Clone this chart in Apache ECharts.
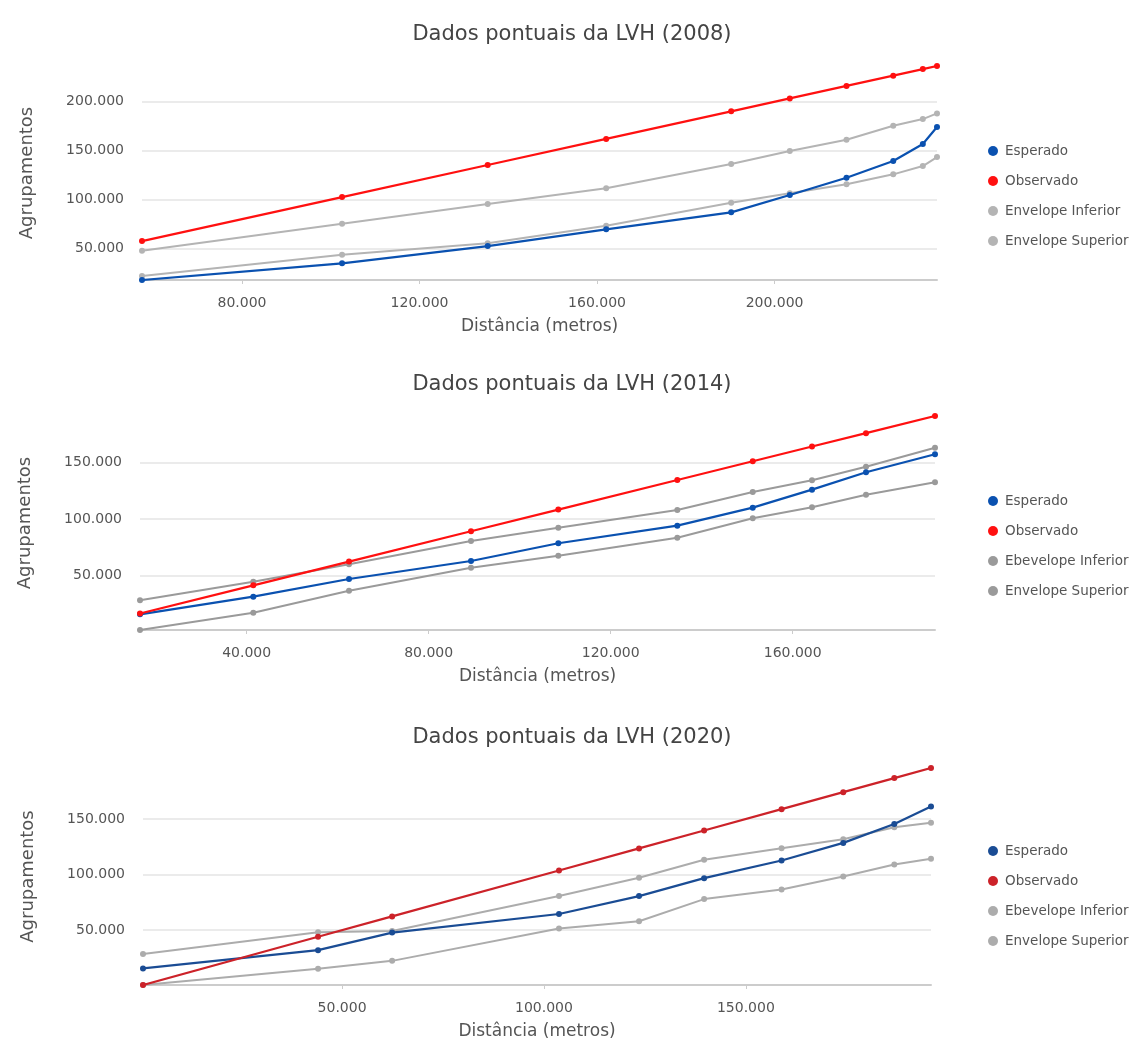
<!DOCTYPE html>
<html>
<head>
<meta charset="utf-8">
<script src="https://cdn.jsdelivr.net/npm/echarts@6/dist/echarts.min.js"></script>
<style>
  html, body { margin: 0; padding: 0; background: #fff; }
  #wrap { position: relative; width: 1144px; height: 1048px; }
  .c { position: absolute; left: 0; width: 1144px; }
</style>
</head>
<body>
<div id="wrap">
  <div id="c1" class="c" style="top:0;height:350px"></div>
  <div id="c2" class="c" style="top:350px;height:350px"></div>
  <div id="c3" class="c" style="top:700px;height:348px"></div>
</div>
<script>
// ---- 2008 ----
const dist2008      = [57460, 102540, 135360, 162050, 190220, 203430, 216210, 226740, 233410, 236600];
const esperado2008  = [17690, 34760, 52410, 69530, 86910, 104600, 122290, 139370, 156750, 174130];
const observado2008 = [57460, 102540, 135360, 162050, 190220, 203430, 216210, 226740, 233410, 236600];
const envInf2008    = [21780, 43560, 55210, 73210, 96730, 106340, 115540, 125770, 134250, 143460];
const envSup2008    = [47650, 75250, 95400, 111450, 136300, 149600, 161150, 175460, 182300, 188100];
const xTicks2008 = [80000, 120000, 160000, 200000];
const yTicks2008 = [50000, 100000, 150000, 200000];
const names2008 = ['Esperado', 'Observado', 'Envelope Inferior', 'Envelope Superior'];

// ---- 2014 ----
const dist2014      = [16550, 41450, 62490, 89300, 108490, 134650, 151220, 164250, 176120, 191280];
const esperado2014  = [15850, 31420, 47090, 63010, 78680, 94250, 110180, 126110, 141500, 157430];
const observado2014 = [16550, 41450, 62490, 89300, 108490, 134650, 151220, 164250, 176120, 191280];
const envInf2014    = [1960, 17270, 36730, 57090, 67700, 83630, 100800, 110530, 121680, 132660];
const envSup2014    = [28240, 44700, 60100, 80710, 92480, 108140, 124070, 134430, 146460, 163270];
const xTicks2014 = [40000, 80000, 120000, 160000];
const yTicks2014 = [50000, 100000, 150000];
const names2014 = ['Esperado', 'Observado', 'Ebevelope Inferior', 'Envelope Superior'];

// ---- 2020 ----
const dist2020      = [700, 44050, 62390, 103720, 123540, 139650, 158840, 174110, 186750, 195840];
const esperado2020  = [15600, 32000, 47860, 64520, 80650, 96780, 112640, 128500, 145520, 161290];
const observado2020 = [700, 44050, 62390, 103720, 123540, 139650, 158840, 174110, 186750, 195840];
const envInf2020    = [700, 15240, 22410, 51440, 57980, 77960, 86650, 98300, 109050, 114160];
const envSup2020    = [28680, 48120, 49290, 80650, 97140, 113260, 123660, 131740, 142490, 146680];
const xTicks2020 = [50000, 100000, 150000];
const yTicks2020 = [50000, 100000, 150000];
const names2020 = ['Esperado', 'Observado', 'Ebevelope Inferior', 'Envelope Superior'];

const FONT = 'DejaVu Sans';
const fmt = v => String(Math.round(v)).replace(/\B(?=(\d{3})+(?!\d))/g, '.');
const pairs = (xs, ys) => xs.map((x, i) => [x, ys[i]]);

function build(el, cfg) {
  const chart = echarts.init(document.getElementById(el), null, { renderer: 'canvas' });
  const mk = (name, xs, ys, color, z, w) => ({
    name: name, type: 'line', data: pairs(xs, ys),
    symbol: 'circle', symbolSize: 6, showSymbol: true,
    lineStyle: { color: color, width: w },
    itemStyle: { color: color },
    z: z, animation: false
  });
  chart.setOption({
    animation: false,
    title: {
      text: cfg.title, left: 'center', top: cfg.titleTop,
      textStyle: { fontFamily: FONT, fontSize: 21, fontWeight: 'normal', color: '#444' }
    },
    legend: {
      orient: 'vertical', left: 983, top: 139,
      data: cfg.names.map(n => ({ name: n, icon: 'circle' })),
      itemWidth: 10, itemHeight: 10, itemGap: 16,
      textStyle: { fontFamily: FONT, fontSize: 13.5, color: '#555', padding: [0, 0, 0, 2] }
    },
    grid: cfg.grid,
    xAxis: {
      type: 'value', min: 'dataMin', max: 'dataMax',
      name: 'Distância (metros)', nameLocation: 'middle', nameGap: 38,
      nameTextStyle: { fontFamily: FONT, fontSize: 17, color: '#555' },
      axisLine: { show: true, lineStyle: { color: '#cccccc', width: 2 } },
      axisTick: { show: true, customValues: cfg.xTicks, length: 4, lineStyle: { color: '#cccccc' } },
      axisLabel: { customValues: cfg.xTicks, formatter: fmt, margin: 16,
        fontFamily: FONT, fontSize: 14, color: '#555' },
      splitLine: { show: false }
    },
    yAxis: {
      type: 'value', min: 'dataMin', max: 'dataMax',
      name: 'Agrupamentos', nameLocation: 'middle', nameGap: 106,
      nameTextStyle: { fontFamily: FONT, fontSize: 18, color: '#555' },
      axisLine: { show: false },
      axisTick: { show: false, customValues: cfg.yTicks },
      axisLabel: { customValues: cfg.yTicks, formatter: fmt, margin: 18,
        fontFamily: FONT, fontSize: 14, color: '#555' },
      splitLine: { show: true, lineStyle: { color: '#ebebeb', width: 2 } }
    },
    series: [
      mk(cfg.names[2], cfg.d.x, cfg.d.inf, cfg.colors[2], 2, 2),
      mk(cfg.names[3], cfg.d.x, cfg.d.sup, cfg.colors[3], 2, 2),
      mk(cfg.names[0], cfg.d.x, cfg.d.esp, cfg.colors[0], 3, 2.2),
      mk(cfg.names[1], cfg.d.x, cfg.d.obs, cfg.colors[1], 4, 2.2)
    ]
  });
}

build('c1', {
  title: 'Dados pontuais da LVH (2008)', titleTop: 19, names: names2008,
  grid: { left: 142, top: 66, width: 795, height: 214 },
  xTicks: xTicks2008, yTicks: yTicks2008,
  colors: ['#0a51b0', '#ff1010', '#b4b4b4', '#b4b4b4'],
  d: { x: dist2008, esp: esperado2008, obs: observado2008, inf: envInf2008, sup: envSup2008 }
});
build('c2', {
  title: 'Dados pontuais da LVH (2014)', titleTop: 19, names: names2014,
  grid: { left: 140, top: 66, width: 795, height: 214 },
  xTicks: xTicks2014, yTicks: yTicks2014,
  colors: ['#0a51b0', '#ff1010', '#9a9a9a', '#9a9a9a'],
  d: { x: dist2014, esp: esperado2014, obs: observado2014, inf: envInf2014, sup: envSup2014 }
});
build('c3', {
  title: 'Dados pontuais da LVH (2020)', titleTop: 22, names: names2020,
  grid: { left: 143, top: 68, width: 788, height: 217 },
  xTicks: xTicks2020, yTicks: yTicks2020,
  colors: ['#1a4c94', '#cc2229', '#acacac', '#acacac'],
  d: { x: dist2020, esp: esperado2020, obs: observado2020, inf: envInf2020, sup: envSup2020 }
});
</script>
</body>
</html>
